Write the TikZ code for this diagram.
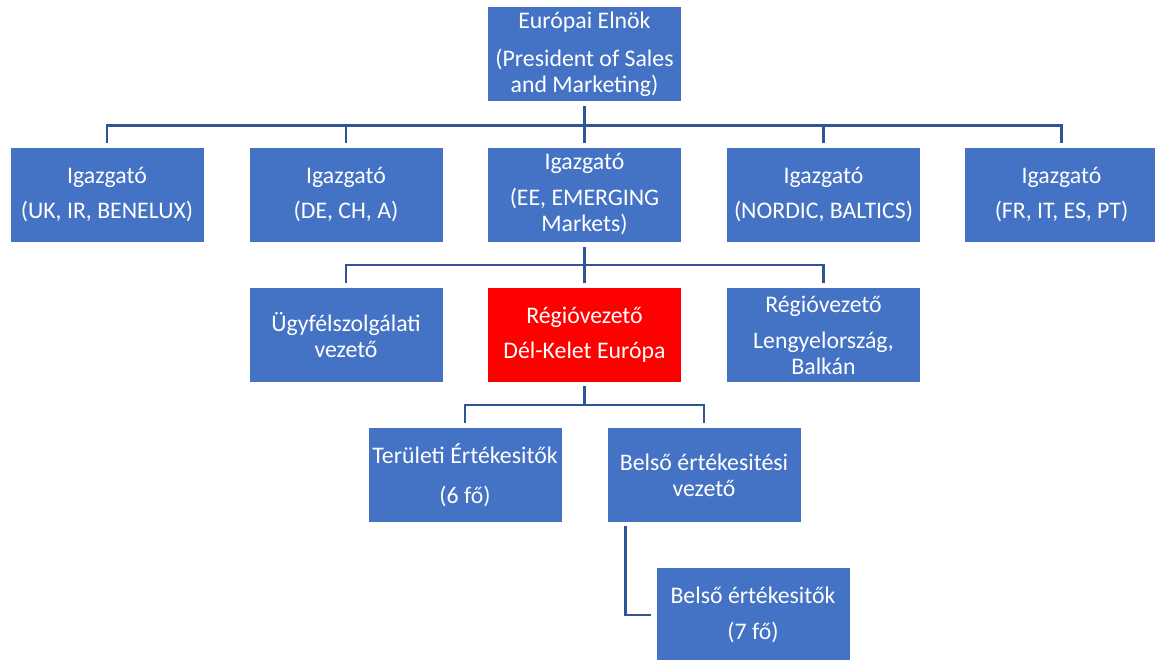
\documentclass[tikz,border=0pt]{standalone}
\usepackage{fontspec}
\setmainfont{Carlito}
\definecolor{boxblue}{HTML}{4472C4}
\definecolor{linkblue}{HTML}{2F5597}
\definecolor{hired}{HTML}{FF0000}
\begin{document}
\begin{tikzpicture}[x=1pt,y=-1pt,
  box/.style={fill=boxblue, text=white, minimum width=193pt, minimum height=94pt,
    inner sep=0pt, align=center, font=\fontsize{23.8}{26}\selectfont},
  redbox/.style={box, fill=hired},
  conn/.style={draw=linkblue, line width=2.6pt}]
\useasboundingbox (0,0) rectangle (1155,659);
\fill[white] (0,0) rectangle (1155,659);
% nodes
\node[box] (top) at (584.5,54) {Európai Elnök\\[12pt](President of Sales\\and Marketing)};
\node[box] (uk) at (107,194.5) {Igazgató\\[9pt](UK, IR, BENELUX)};
\node[box] (de) at (346,194.5) {Igazgató\\[9pt](DE, CH, A)};
\node[box] (ee) at (584.5,194.5) {Igazgató\\[10pt](EE, EMERGING\\Markets)};
\node[box] (nor) at (823.5,194.5) {Igazgató\\[9pt](NORDIC, BALTICS)};
\node[box] (fr) at (1061.5,194.5) {Igazgató\\[9pt](FR, IT, ES, PT)};
\node[box] (ugy) at (346,335) {Ügyfélszolgálati\\vezető};
\node[redbox] (red) at (584.5,335) {Régióvezető\\[9pt]Dél-Kelet Európa};
\node[box] (pol) at (823.5,335) {Régióvezető\\[10pt]Lengyelország,\\Balkán};
\node[box] (ter) at (465,475) {Területi Értékesitők\\[14pt](6 fő)};
\node[box] (bev) at (704,475) {Belső értékesitési\\vezető};
\node[box] (bert) at (753,615) {Belső értékesitők\\[10pt](7 fő)};
% connectors level 1-2
\draw[conn] ([yshift=-5pt]top.south) -- ([yshift=4pt]ee.north);
\draw[conn] ([yshift=4pt]uk.north) -- ++(0,-18) -| ([yshift=4pt]fr.north);
\draw[conn] ([yshift=4pt]de.north) -- ++(0,-18);
\draw[conn] ([yshift=4pt]nor.north) -- ++(0,-18);
% level 2-3
\draw[conn] ([yshift=-5pt]ee.south) -- ([yshift=5pt]red.north);
\draw[conn] ([yshift=5pt]ugy.north) -- ++(0,-18) -| ([yshift=5pt]pol.north);
% level 3-4
\coordinate (bus4) at (0,405);
\draw[conn] ([yshift=-4pt]red.south) -- (red.south |- bus4);
\draw[conn] ([yshift=5pt]ter.north) -- ++(0,-18) -| ([yshift=5pt]bev.north);
% level 4-5
\draw[conn] ([xshift=18pt,yshift=-4pt]bev.south west) |- ([xshift=-5pt]bert.west);
\end{tikzpicture}
\end{document}
